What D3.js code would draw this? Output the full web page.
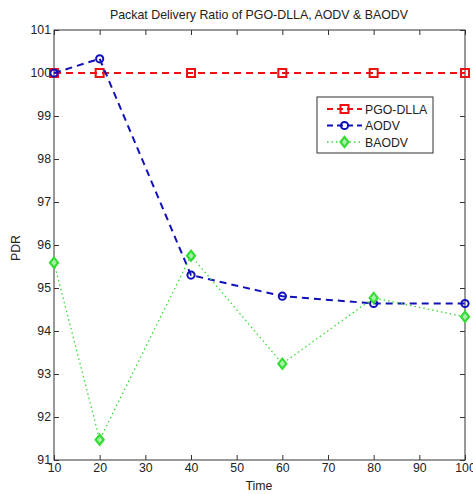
<!DOCTYPE html>
<html><head><meta charset="utf-8">
<script src="https://cdn.jsdelivr.net/npm/d3@7"></script>
<style>
body{margin:0;background:#fff;}
text{font-family:"Liberation Sans",Arial,sans-serif;fill:#222;}
</style></head>
<body><svg id="c" width="473" height="494"></svg>
<script>
const times = [10, 20, 40, 60, 80, 100];
const pgoDlla = [100, 100, 100, 100, 100, 100];
const aodv = [100, 100.33, 95.30, 94.81, 94.64, 94.64];
const baodv = [95.59, 91.47, 95.75, 93.24, 94.77, 94.33];
const xTicks = [10, 20, 30, 40, 50, 60, 70, 80, 90, 100];
const yTicks = [91, 92, 93, 94, 95, 96, 97, 98, 99, 100, 101];
const seriesNames = ["PGO-DLLA", "AODV", "BAODV"];

const svg = d3.select("#c");
const m = {l: 54, r: 465, t: 30, b: 460};
const x = d3.scaleLinear().domain([10, 100]).range([m.l, m.r]);
const y = d3.scaleLinear().domain([91, 101]).range([m.b, m.t]);
const FS = 12.3;

svg.append("rect").attr("x", m.l).attr("y", m.t).attr("width", m.r - m.l).attr("height", m.b - m.t)
  .attr("fill", "#fff").attr("stroke", "#333").attr("stroke-width", 1);

const fmt = d3.format("d");
svg.append("g").attr("transform", `translate(0,${m.b})`)
  .call(d3.axisBottom(x).tickValues(xTicks).tickFormat(fmt).tickSizeInner(-5).tickSizeOuter(0).tickPadding(3))
  .call(g => { g.select(".domain").remove(); g.selectAll("line").attr("stroke", "#333");
    g.selectAll("text").attr("font-size", FS).attr("fill", "#222"); });
svg.append("g").attr("transform", `translate(0,${m.t})`)
  .call(d3.axisTop(x).tickValues(xTicks).tickFormat("").tickSizeInner(-5).tickSizeOuter(0))
  .call(g => { g.select(".domain").remove(); g.selectAll("line").attr("stroke", "#333"); });
svg.append("g").attr("transform", `translate(${m.l},0)`)
  .call(d3.axisLeft(y).tickValues(yTicks).tickFormat(fmt).tickSizeInner(-5).tickSizeOuter(0).tickPadding(3))
  .call(g => { g.select(".domain").remove(); g.selectAll("line").attr("stroke", "#333");
    g.selectAll("text").attr("font-size", FS).attr("fill", "#222"); });
svg.append("g").attr("transform", `translate(${m.r},0)`)
  .call(d3.axisRight(y).tickValues(yTicks).tickFormat("").tickSizeInner(-5).tickSizeOuter(0))
  .call(g => { g.select(".domain").remove(); g.selectAll("line").attr("stroke", "#333"); });

svg.append("text").attr("x", 259).attr("y", 19).attr("text-anchor", "middle").attr("font-size", 12.4)
  .text("Packat Delivery Ratio of PGO-DLLA, AODV & BAODV");
svg.append("text").attr("x", 259).attr("y", 490).attr("text-anchor", "middle").attr("font-size", FS).text("Time");
svg.append("text").attr("transform", "translate(20,248) rotate(-90)").attr("text-anchor", "middle").attr("font-size", FS).text("PDR");

const styles = [
  {data: pgoDlla, color: "#ee1111", dash: "7,5", width: 2, marker: "square"},
  {data: aodv, color: "#1111bb", dash: "7,5", width: 2, marker: "circle"},
  {data: baodv, color: "#33dd33", dash: "1.5,3", width: 1.3, marker: "diamond"}
];

function drawMarker(g, type, cx, cy, color) {
  if (type === "square") {
    g.append("rect").attr("x", cx - 4).attr("y", cy - 4).attr("width", 8).attr("height", 8)
      .attr("fill", "none").attr("stroke", color).attr("stroke-width", 2);
  } else if (type === "circle") {
    g.append("circle").attr("cx", cx).attr("cy", cy).attr("r", 3.6)
      .attr("fill", "none").attr("stroke", color).attr("stroke-width", 2);
  } else {
    g.append("path").attr("d", `M${cx},${cy - 5}L${cx + 4},${cy}L${cx},${cy + 5}L${cx - 4},${cy}Z`)
      .attr("fill", "#aaf0aa").attr("stroke", color).attr("stroke-width", 2.2);
  }
}

const line = d3.line().x((d, i) => x(times[i])).y(d => y(d));
const plot = svg.append("g");
styles.forEach(s => {
  plot.append("path").datum(s.data).attr("d", line).attr("fill", "none")
    .attr("stroke", s.color).attr("stroke-width", s.width).attr("stroke-dasharray", s.dash);
  s.data.forEach((v, i) => drawMarker(plot, s.marker, x(times[i]), y(v), s.color));
});

const lg = svg.append("g");
lg.append("rect").attr("x", 317).attr("y", 97).attr("width", 116).attr("height", 56)
  .attr("fill", "#fff").attr("stroke", "#333").attr("stroke-width", 1);
styles.forEach((s, i) => {
  const ly = 109 + i * 16.5;
  lg.append("line").attr("x1", 327).attr("x2", 362).attr("y1", ly).attr("y2", ly)
    .attr("stroke", s.color).attr("stroke-width", s.width).attr("stroke-dasharray", s.dash === "7,5" ? "6,4" : s.dash);
  drawMarker(lg, s.marker, 344.5, ly, s.color);
  lg.append("text").attr("x", 365).attr("y", ly + 4.5).attr("font-size", FS).text(seriesNames[i]);
});
</script></body></html>
